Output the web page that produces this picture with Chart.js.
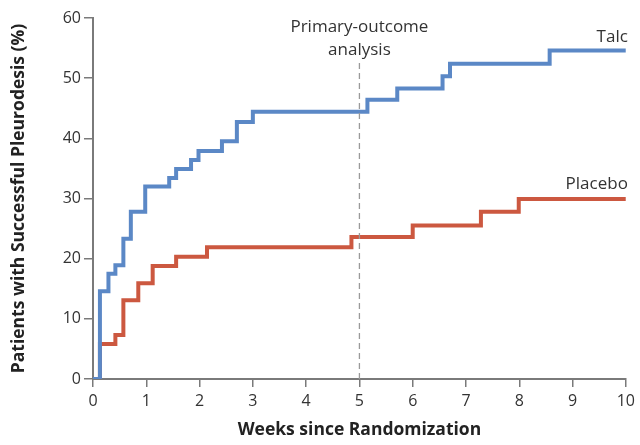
<!DOCTYPE html>
<html>
<head>
<meta charset="utf-8">
<script src="https://cdn.jsdelivr.net/npm/chart.js@4.4.1/dist/chart.umd.min.js"></script>
<style>
  html, body { margin: 0; padding: 0; background: #fff; }
  #wrap { width: 640px; height: 445px; position: relative; }
</style>
</head>
<body>
<div id="wrap"><canvas id="chartPleurodesis"></canvas></div>
<script>
(function () {
    'use strict';

    // cumulative % with successful pleurodesis
    var talcWeeks = [0, 0.13, 0.29, 0.42, 0.57, 0.71, 0.98, 1.43, 1.56, 1.84, 1.98, 2.42, 2.70, 3.00, 5.15, 5.71, 6.56, 6.70, 8.57, 10];
    var talcPct   = [0, 14.6, 17.5, 18.9, 23.3, 27.8, 32.0, 33.4, 34.9, 36.4, 37.9, 39.5, 42.7, 44.4, 46.4, 48.3, 50.3, 52.4, 54.6, 54.6];

    var placeboWeeks = [0, 0.13, 0.42, 0.57, 0.85, 1.12, 1.56, 2.14, 4.85, 6.00, 7.28, 7.99, 10];
    var placeboPct   = [0, 5.8, 7.3, 13.1, 15.9, 18.8, 20.3, 21.9, 23.6, 25.5, 27.8, 29.9, 29.9];

    var xTicks = [0, 1, 2, 3, 4, 5, 6, 7, 8, 9, 10];
    var yTicks = [0, 10, 20, 30, 40, 50, 60];
    var primaryWeek = 5;

    var BLUE = '#5b88c6';
    var RED = '#cc5840';
    var AXIS = '#7a7a7a';
    var TEXT = '#333333';
    var FONT = '"Open Sans", "Noto Sans", sans-serif';

    function toPoints(xs, ys) {
        return xs.map(function (x, i) { return { x: x, y: ys[i] }; });
    }

    var annotations = {
        id: 'annotations',
        afterDatasetsDraw: function (chart) {
            var ctx = chart.ctx;
            var xs = chart.scales.x, ys = chart.scales.y;
            var px = xs.getPixelForValue(primaryWeek);
            ctx.save();
            ctx.strokeStyle = '#9a9a9a';
            ctx.lineWidth = 1.3;
            ctx.setLineDash([6, 4]);
            ctx.beginPath();
            ctx.moveTo(px, 63);
            ctx.lineTo(px, ys.getPixelForValue(0));
            ctx.stroke();
            ctx.setLineDash([]);

            ctx.fillStyle = TEXT;
            ctx.font = '17px ' + FONT;
            ctx.textAlign = 'center';
            ctx.textBaseline = 'middle';
            ctx.fillText('Primary-outcome', px, 27);
            ctx.fillText('analysis', px, 50);

            ctx.textAlign = 'right';
            ctx.fillText('Talc', xs.getPixelForValue(10) + 2, 37);
            ctx.fillText('Placebo', xs.getPixelForValue(10) + 2, 184);
            ctx.restore();
        }
    };

    function init() {
        var canvas = document.getElementById('chartPleurodesis');
        new Chart(canvas, {
            type: 'line',
            data: {
                datasets: [
                    {
                        label: 'Talc',
                        data: toPoints(talcWeeks, talcPct),
                        borderColor: BLUE,
                        borderWidth: 4,
                        stepped: 'before',
                        pointRadius: 0,
                        fill: false,
                        order: 0
                    },
                    {
                        label: 'Placebo',
                        data: toPoints(placeboWeeks, placeboPct),
                        borderColor: RED,
                        borderWidth: 4,
                        stepped: 'before',
                        pointRadius: 0,
                        fill: false,
                        order: 1
                    }
                ]
            },
            options: {
                responsive: true,
                maintainAspectRatio: false,
                animation: false,
                layout: { padding: { top: 18, right: 11, left: 9, bottom: 0 } },
                plugins: {
                    legend: { display: false },
                    tooltip: { enabled: false }
                },
                scales: {
                    x: {
                        type: 'linear',
                        min: 0,
                        max: 10,
                        afterBuildTicks: function (s) { s.ticks = xTicks.map(function (v) { return { value: v }; }); },
                        afterFit: function (s) { s.height = 66; },
                        border: { color: AXIS, width: 2 },
                        grid: { drawOnChartArea: false, drawTicks: true, tickLength: 8, color: AXIS, lineWidth: 1.5 },
                        ticks: { color: TEXT, font: { family: FONT, size: 16 }, padding: 5, maxRotation: 0 },
                        title: {
                            display: true,
                            text: 'Weeks since Randomization',
                            color: '#222',
                            font: { family: FONT, size: 17.5, weight: 'bold' },
                            padding: { top: 8 }
                        }
                    },
                    y: {
                        type: 'linear',
                        min: 0,
                        max: 60,
                        afterBuildTicks: function (s) { s.ticks = yTicks.map(function (v) { return { value: v }; }); },
                        afterFit: function (s) { s.width = 84; },
                        border: { color: AXIS, width: 2 },
                        grid: { drawOnChartArea: false, drawTicks: true, tickLength: 9, color: AXIS, lineWidth: 1.5 },
                        ticks: { color: TEXT, font: { family: FONT, size: 16 }, padding: 3 },
                        title: {
                            display: true,
                            text: 'Patients with Successful Pleurodesis (%)',
                            color: '#222',
                            font: { family: FONT, size: 17.5, weight: 'bold' },
                            padding: { top: 0, bottom: 4 }
                        }
                    }
                }
            },
            plugins: [annotations]
        });
    }

    if (document.readyState === 'loading') {
        document.addEventListener('DOMContentLoaded', init);
    } else {
        init();
    }
})();
</script>
</body>
</html>
